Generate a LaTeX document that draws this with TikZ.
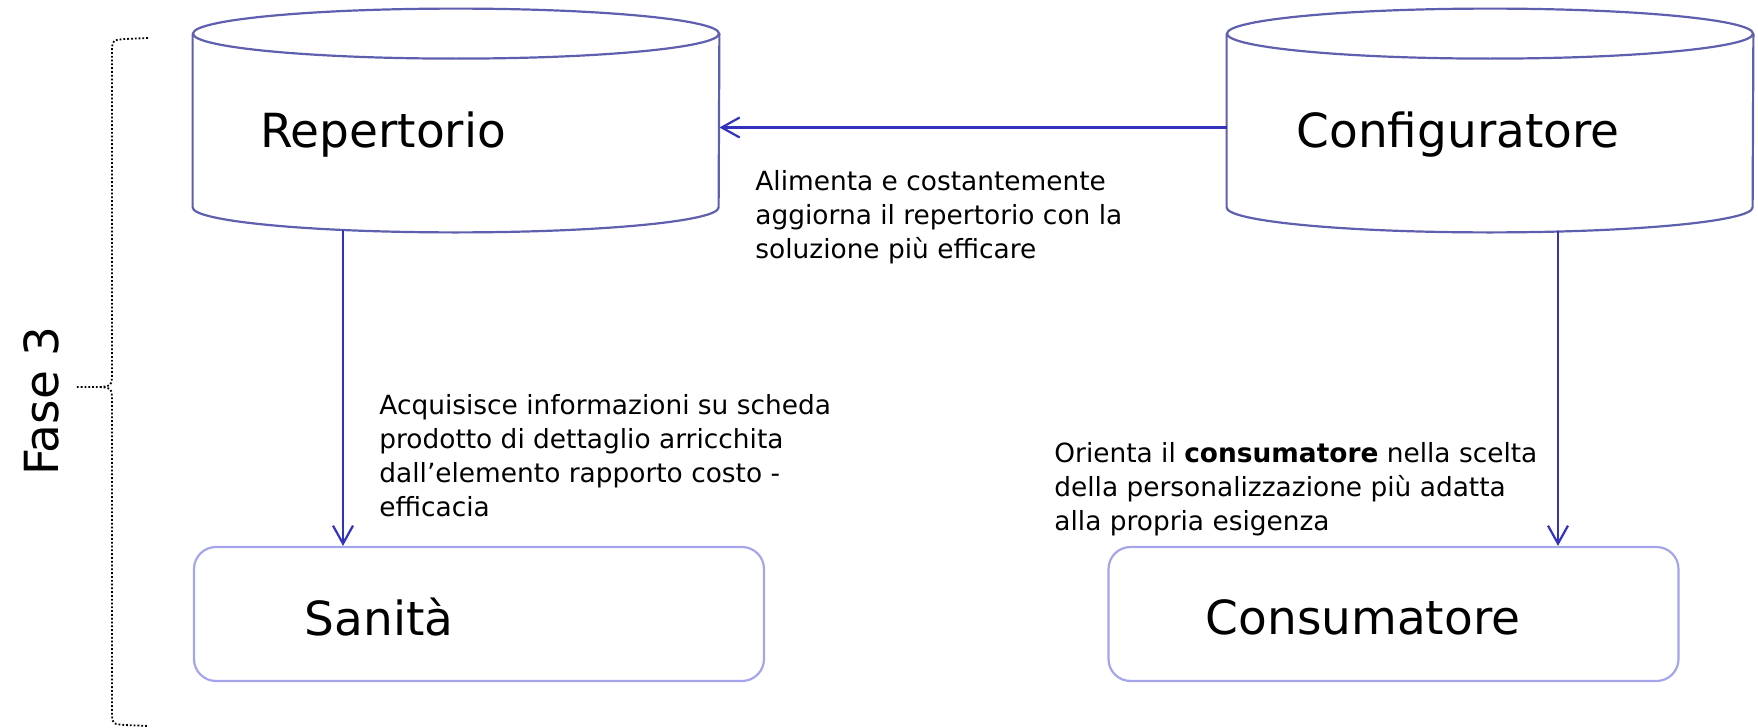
\documentclass[tikz,border=0pt]{standalone}
\usepackage{fontspec}
\setmainfont{DejaVu Sans}
\usetikzlibrary{arrows.meta}

\definecolor{dbline}{RGB}{95,95,175}
\definecolor{boxline}{RGB}{165,165,235}
\definecolor{arrline}{RGB}{50,50,190}

\tikzset{
  dbase/.style={minimum width=263pt, minimum height=86.5pt, inner sep=0},
  dbdraw/.style={draw=dbline, line width=1.1pt},
  actor/.style={draw=boxline, line width=1.1pt, rounded corners=11pt,
    minimum width=285pt, minimum height=67pt},
  big/.style={font=\fontsize{23.5}{28}\selectfont, inner sep=0},
  note/.style={font=\fontsize{13.2}{17}\selectfont, align=left, inner sep=0, anchor=north west},
  arr/.style={draw=arrline, line width=1.1pt, -{Straight Barb[length=9pt,width=10pt]}}
}

\begin{document}
\begin{tikzpicture}[x=0.5pt,y=-0.5pt]
\useasboundingbox (0,0) rectangle (1758,728);

% archivi
\node[dbase] (rep) at (456,120.5) {};
\node[dbase] (conf) at (1490,120.5) {};
\foreach \db in {rep,conf}{
  \draw[dbdraw] (\db.north) ellipse [x radius=263, y radius=25];
  \draw[dbdraw] (\db.north west) -- (\db.south west) arc [start angle=180, end angle=0, x radius=263, y radius=25] -- (\db.north east);
}
\node[big] (repl) at (383,135) {Repertorio};
\node[big] (confl) at (1458,135) {Configuratore};

% destinatari
\node[actor] (san) at (479,614) {};
\node[actor] (cons) at (1393.5,614) {};
\node[big] (sanl) at (379,617) {Sanità};
\node[big] (consl) at (1363,617) {Consumatore};

% frecce
\draw[arr] ([shift={(0,7)}]conf.west) -- ([shift={(0,7)}]rep.east);
\draw[arr] ([shift={(-113,23)}]rep.south) -- ([shift={(-113,0)}]rep.south |- san.north);
\draw[arr] ([shift={(68,24)}]conf.south) -- ([shift={(68,0)}]conf.south |- cons.north);

% testi
\node[note] (alim) at (755,170) {Alimenta e costantemente\\aggiorna il repertorio con la\\soluzione più efficare};
\node[note] (acq) at (379,394) {Acquisisce informazioni su scheda\\prodotto di dettaglio arricchita\\dall’elemento rapporto costo -\\efficacia};
\node[note] (orie) at (1054,442) {Orienta il \textbf{consumatore} nella scelta\\della personalizzazione più adatta\\alla propria esigenza};

% fase
\draw[densely dotted, line width=0.9pt] (148,38) -- (125,39) .. controls (113,40) .. (112,48) -- (112,378)
  .. controls (111,386) .. (100,387) -- (75,387)
  (100,387) .. controls (111,388) .. (112,396) -- (112,716) .. controls (113,724) .. (125,725) -- (148,726);
\node[big, rotate=90] (fase) at (41,401) {Fase 3};
\end{tikzpicture}
\end{document}
